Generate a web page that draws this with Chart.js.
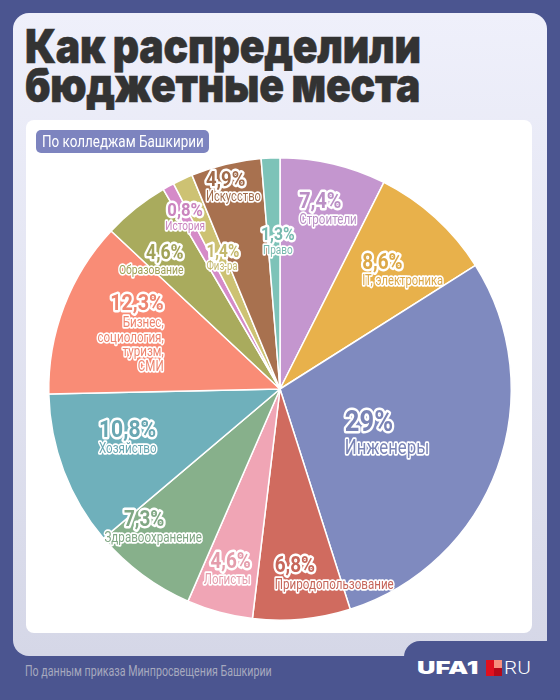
<!DOCTYPE html>
<html lang="ru">
  <head>
    <meta charset="UTF-8" />
    <title>Бюджетные места</title>
    <script src="https://cdn.jsdelivr.net/npm/chart.js"></script>
    <style>
      body {
        margin: 0;
        width: 560px;
        height: 700px;
        background: #4b5590;
        position: relative;
        overflow: hidden;
        font-family: Roboto, sans-serif;
      }
      .card {
        position: absolute;
        left: 13px;
        top: 13px;
        width: 534px;
        height: 643px;
        border-radius: 16px;
        background: linear-gradient(#eff0fb, #d5d7e7);
      }
      .tab {
        position: absolute;
        left: 404px;
        top: 641px;
        width: 200px;
        height: 80px;
        background: #4b5590;
        border-top-left-radius: 16px;
      }
      h1 {
        position: absolute;
        left: 25px;
        top: 26px;
        margin: 0;
        font-family: Inter, sans-serif;
        font-weight: 900;
        font-size: 47px;
        line-height: 39px;
        color: #333333;
        -webkit-text-stroke: 0.6px #333333;
        transform-origin: 0 0;
        transform: scaleX(0.87);
        white-space: nowrap;
        letter-spacing: -0.3px;
      }
      .inner {
        position: absolute;
        left: 26px;
        top: 120px;
        width: 506px;
        height: 513px;
        border-radius: 8px;
        background: #ffffff;
      }
      .badge {
        position: absolute;
        left: 36px;
        top: 130px;
        width: 173px;
        height: 23px;
        border-radius: 5px;
        background: #7d84bf;
        color: #ffffff;
        font-size: 16px;
        line-height: 23px;
        box-sizing: border-box;
        padding-left: 6px;
        white-space: nowrap;
      }
      .badge span {
        display: inline-block;
        transform-origin: 0 50%;
        transform: scaleX(0.84);
      }
      .source {
        position: absolute;
        left: 25px;
        top: 663px;
        color: #a6a9be;
        font-size: 14px;
        white-space: nowrap;
      }
      .source span {
        display: inline-block;
        transform-origin: 0 50%;
        transform: scaleX(0.76);
      }
      .logo span {
        position: absolute;
        color: #ffffff;
        white-space: nowrap;
        transform-origin: 0 50%;
      }
      .logo .ufa {
        left: 417px;
        top: 656px;
        line-height: 24px;
        font-family: Inter, sans-serif;
        font-weight: 900;
        font-size: 18px;
        transform: scaleX(1.42);
      }
      .logo .sq {
        left: 486px;
        top: 660px;
        width: 16px;
        height: 16px;
        background:
          linear-gradient(#f7907d, #f7907d) 8px 0 / 8px 8px no-repeat,
          linear-gradient(#e0101e, #e0101e) 0 0 / 8px 16px no-repeat,
          linear-gradient(#b50818, #b50818) 8px 8px / 8px 8px no-repeat;
      }
      .logo .ru {
        left: 504px;
        top: 656px;
        line-height: 24px;
        font-family: Roboto, sans-serif;
        font-weight: 300;
        font-size: 18px;
        transform: scaleX(1.15);
      }
      #chartBox {
        position: absolute;
        left: 26px;
        top: 120px;
        width: 506px;
        height: 513px;
      }
    </style>
  </head>
  <body>
    <div class="card"></div>
    <div class="tab"></div>
    <h1>Как распределили<br />бюджетные места</h1>
    <div class="inner"></div>
    <div id="chartBox"><canvas id="pie"></canvas></div>
    <div class="badge"><span>По колледжам Башкирии</span></div>
    <div class="source"><span>По данным приказа Минпросвещения Башкирии</span></div>
    <div class="logo"><span class="ufa">UFA1</span><span class="sq"></span><span class="ru">RU</span></div>

    <script>
      // data, clockwise from 12 o'clock
      const categories = [
        "Строители",
        "IT, электроника",
        "Инженеры",
        "Природопользование",
        "Логисты",
        "Здравоохранение",
        "Хозяйство",
        "Бизнес, социология, туризм, СМИ",
        "Образование",
        "История",
        "Физ-ра",
        "Искусство",
        "Право",
      ];
      const shares = [7.4, 8.6, 29, 6.8, 4.6, 7.3, 10.8, 12.3, 4.6, 0.8, 1.4, 4.9, 1.3];
      const colors = [
        "#c496cf", "#e8b14b", "#7f8abf", "#d06b5f", "#f0a5b5", "#87b08b", "#6fb0bb",
        "#f98c76", "#a9ab5d", "#d58bc8", "#cdc273", "#a8714f", "#7dc3b8",
      ];

      // label layout: line breaks, radius factor, angle shift (deg), font sizes, alignment
      const labelLines = [
        ["Строители"], ["IT, электроника"], ["Инженеры"], ["Природопользование"],
        ["Логисты"], ["Здравоохранение"], ["Хозяйство"],
        ["Бизнес,", "социология,", "туризм,", "СМИ"],
        ["Образование"], ["История"], ["Физ-ра"], ["Искусство"], ["Право"],
      ];
      const labelRadius = [0.81, 0.74, 0.5, 0.83, 0.81, 0.81, 0.69, 0.69, 0.79, 0.85, 0.62, 0.9, 0.64];
      const labelShift = [1.5, 3.6, 2.2, -11, 1.2, 6, 3.3, -0.4, -6.2, 0, 1.4, 0.6, 1.5];
      const labelAlign = ["left", "left", "left", "left", "right", "center", "left",
        "right", "right", "center", "left", "left", "center"];
      const pctNudge = [0, 0, 0, 0, 0, -9, 0, 0, 0, 0, 0, 0, 0];
      const pctSize = [22.5, 21.5, 29, 21.5, 21.5, 21.5, 24, 22.5, 20, 19, 17.5, 21, 18];
      const nameSize = [14.5, 14, 21, 14.5, 14.5, 14.5, 14.5, 14.5, 13, 12.5, 12, 14, 12.5];

      const PCT_SX = 0.88;
      const NAME_SX = 0.8;

      function fmt(v) {
        return String(v).replace(".", ",") + "%";
      }

      function darker(hex, k) {
        const n = parseInt(hex.slice(1), 16);
        const r = Math.round(((n >> 16) & 255) * k);
        const g = Math.round(((n >> 8) & 255) * k);
        const b = Math.round((n & 255) * k);
        return "rgb(" + r + "," + g + "," + b + ")";
      }

      function fontOf(size, bold) {
        return (bold ? "bold " : "") + size + "px Roboto";
      }

      // condensed outlined text, drawn with horizontal squeeze
      function outlined(ctx, text, x, y, size, bold, sx, fill, align) {
        ctx.save();
        ctx.translate(x, y);
        ctx.scale(sx, 1);
        ctx.font = fontOf(size, bold);
        ctx.textAlign = align;
        ctx.textBaseline = "alphabetic";
        ctx.lineJoin = "round";
        ctx.strokeStyle = "#ffffff";
        ctx.lineWidth = bold ? 5 : 3.5;
        ctx.strokeText(text, 0, 0);
        ctx.fillStyle = fill;
        ctx.fillText(text, 0, 0);
        ctx.restore();
      }

      const sliceLabels = {
        id: "sliceLabels",
        afterDatasetsDraw(chart) {
          const ctx = chart.ctx;
          const arcs = chart.getDatasetMeta(0).data;
          arcs.forEach((arc, i) => {
            const p = arc.getProps(["x", "y", "startAngle", "endAngle", "outerRadius"], true);
            const mid = (p.startAngle + p.endAngle) / 2 + (labelShift[i] * Math.PI) / 180;
            const r = p.outerRadius * labelRadius[i];
            const cx = p.x + Math.cos(mid) * r;
            const cy = p.y + Math.sin(mid) * r;
            const lines = labelLines[i];
            const ps = pctSize[i];
            const ns = nameSize[i];
            const pctText = fmt(shares[i]);

            // block width
            ctx.font = fontOf(ps, true);
            let w = ctx.measureText(pctText).width * PCT_SX;
            ctx.font = fontOf(ns, false);
            lines.forEach((ln) => {
              w = Math.max(w, ctx.measureText(ln).width * NAME_SX);
            });
            const h = 0.72 * ps + ns * 1.12 + (lines.length - 1) * ns * 1.02 + 0.05 * ns;
            const top = cy - h / 2;
            const align = labelAlign[i];
            let ax = cx;
            if (align === "left") ax = cx - w / 2;
            if (align === "right") ax = cx + w / 2;

            const fill = darker(colors[i], 0.95);
            let y = top + 0.72 * ps;
            outlined(ctx, pctText, ax + pctNudge[i], y, ps, true, PCT_SX, fill, align);
            y += ns * 1.12;
            lines.forEach((ln) => {
              outlined(ctx, ln, ax, y, ns, false, NAME_SX, fill, align);
              y += ns * 1.02;
            });
          });
        },
      };

      new Chart(document.getElementById("pie"), {
        type: "pie",
        data: {
          labels: categories,
          datasets: [
            {
              data: shares,
              backgroundColor: colors,
              borderColor: "#ffffff",
              borderWidth: 1.5,
              hoverOffset: 0,
            },
          ],
        },
        options: {
          responsive: true,
          maintainAspectRatio: false,
          animation: false,
          layout: { padding: { left: 22, right: 20, top: 37, bottom: 12 } },
          plugins: {
            legend: { display: false },
            tooltip: { enabled: false },
          },
        },
        plugins: [sliceLabels],
      });
    </script>
  </body>
</html>
